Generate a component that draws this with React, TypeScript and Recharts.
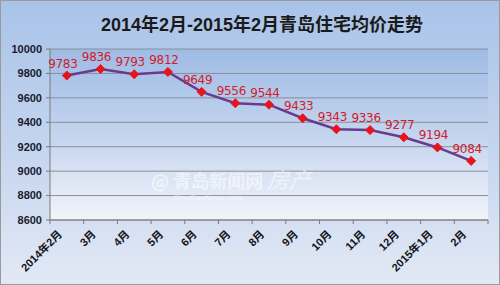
import React from 'react';
import { LineChart, Line, XAxis, YAxis, CartesianGrid, LabelList } from 'recharts';

const title = '2014年2月-2015年2月青岛住宅均价走势';
const months = ['2014年2月', '3月', '4月', '5月', '6月', '7月', '8月', '9月', '10月', '11月', '12月', '2015年1月', '2月'];
const prices = [9783, 9836, 9793, 9812, 9649, 9556, 9544, 9433, 9343, 9336, 9277, 9194, 9084];
const yTicks = [8600, 8800, 9000, 9200, 9400, 9600, 9800, 10000];

const data = months.map((m, i) => ({ month: m, price: prices[i] }));

const W = 500;
const H = 285;
const MARGIN = { top: 49, right: 12, left: 0, bottom: 0 };
const YW = 50;
const XH = 65;
const PLOT_W = W - MARGIN.left - MARGIN.right - YW;
const BAND = PLOT_W / months.length;
const FONT = '"Liberation Sans", Arial, "Noto Sans CJK SC", sans-serif';

function XTick(props: any) {
  const { x, y, payload, index } = props;
  const left = x - BAND / 2;
  const tx = x - 4;
  const ty = y + 15;
  return (
    <g>
      <line x1={left} y1={y} x2={left} y2={y + 4} stroke="#7a7a7a" />
      {index === months.length - 1 && (
        <line x1={x + BAND / 2} y1={y} x2={x + BAND / 2} y2={y + 4} stroke="#7a7a7a" />
      )}
      <text
        x={tx}
        y={ty}
        transform={`rotate(-45 ${tx} ${ty})`}
        textAnchor="end"
        fontSize={11}
        fontWeight="bold"
        fill="#151520"
        fontFamily={FONT}
      >
        {payload.value}
      </text>
    </g>
  );
}

function Diamond(props: any) {
  const { cx, cy } = props;
  if (cx == null || cy == null) return null;
  const r = 4.5;
  return (
    <path
      d={`M${cx},${cy - r} L${cx + r},${cy} L${cx},${cy + r} L${cx - r},${cy} Z`}
      fill="#e8141c"
      stroke="#e8141c"
    />
  );
}

function PriceLabel(props: any) {
  const { x, y, value } = props;
  return (
    <text
      x={x - 4}
      y={y - 8}
      textAnchor="middle"
      fontSize={12}
      fill="#d0202c"
      fontFamily='"DejaVu Sans", sans-serif'
      letterSpacing={-0.3}
    >
      {value}
    </text>
  );
}

export default function App() {
  return (
    <div
      style={{
        position: 'absolute',
        left: 0,
        top: 0,
        width: W,
        height: H,
        boxSizing: 'border-box',
        border: '1px solid #9a9a9a',
        background: 'linear-gradient(to bottom, #a9c3e8 0%, #c3d4ee 50%, #e2e9f5 100%)',
        overflow: 'hidden',
      }}
    >
      <div
        style={{
          position: 'absolute',
          left: 0,
          top: 13,
          width: 522,
          textAlign: 'center',
          fontFamily: FONT,
          fontWeight: 'bold',
          fontSize: 18,
          color: '#1a1a1a',
          lineHeight: '22px',
        }}
      >
        {title}
      </div>
      <div style={{ position: 'absolute', left: -1, top: -1 }}>
        <LineChart width={W} height={H} data={data} margin={MARGIN}>
          <defs>
            <linearGradient id="plotBg" x1="0" y1="0" x2="0" y2="1">
              <stop offset="0%" stopColor="#9fbbe5" />
              <stop offset="55%" stopColor="#c8d7ef" />
              <stop offset="100%" stopColor="#f1f4fa" />
            </linearGradient>
          </defs>
          <CartesianGrid vertical={false} stroke="#8a8f99" fill="url(#plotBg)" />
          <XAxis
            dataKey="month"
            scale="band"
            height={XH}
            interval={0}
            tickSize={0}
            tickMargin={0}
            tickLine={false}
            axisLine={{ stroke: '#7a7a7a' }}
            tick={<XTick />}
          />
          <YAxis
            domain={[8600, 10000]}
            ticks={yTicks}
            interval={0}
            width={YW}
            tickSize={4}
            tickMargin={4}
            axisLine={{ stroke: '#7a7a7a' }}
            tickLine={{ stroke: '#7a7a7a' }}
            tick={{ fontSize: 11, fontWeight: 'bold', fill: '#1a1a30', fontFamily: FONT }}
          />
          <Line
            dataKey="price"
            stroke="#6b3a8e"
            strokeWidth={2.5}
            dot={<Diamond />}
            activeDot={false}
            isAnimationActive={false}
          >
            <LabelList dataKey="price" content={<PriceLabel />} />
          </Line>
        </LineChart>
      </div>
      <div
        style={{
          position: 'absolute',
          left: 150,
          top: 166,
          fontFamily: '"Noto Sans CJK SC", sans-serif',
          fontWeight: 'bold',
          fontSize: 18,
          color: 'rgba(255,255,255,0.55)',
          lineHeight: '22px',
          whiteSpace: 'nowrap',
        }}
      >
        @ 青岛新闻网 <span style={{ fontStyle: 'italic', fontWeight: 'normal', fontSize: 22 }}>房产</span>
      </div>
      <div
        style={{
          position: 'absolute',
          left: 172,
          top: 192,
          fontFamily: FONT,
          fontStyle: 'italic',
          fontSize: 8,
          lineHeight: '9px',
          color: 'rgba(255,255,255,0.6)',
          whiteSpace: 'nowrap',
        }}
      >
        QingDaoNews.com
      </div>
    </div>
  );
}
